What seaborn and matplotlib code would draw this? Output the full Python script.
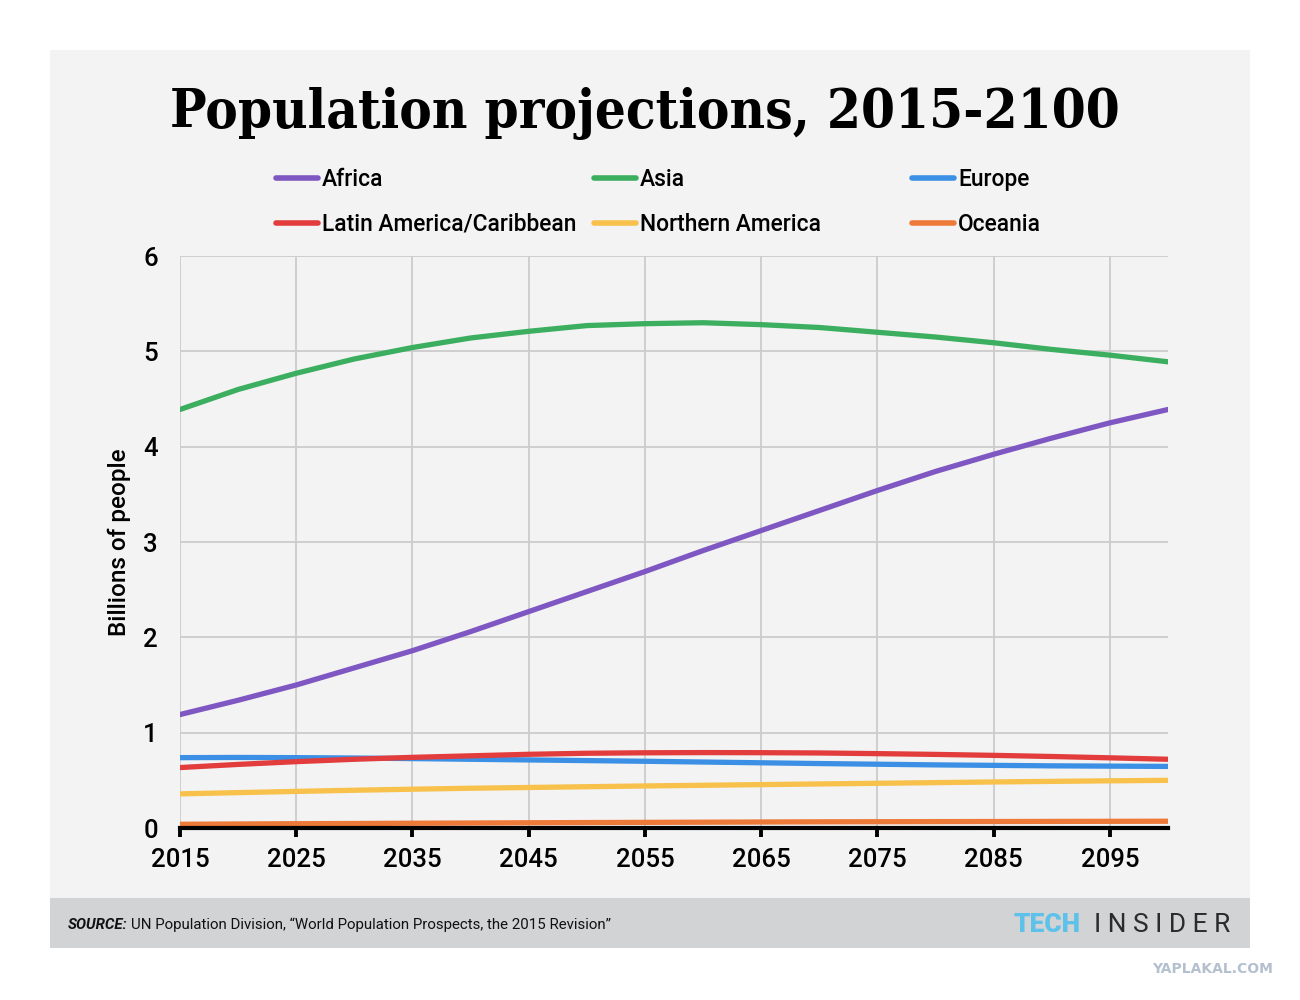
import pandas as pd
import matplotlib
matplotlib.use("Agg")
import matplotlib.pyplot as plt
import seaborn as sns
from matplotlib.patches import Rectangle
from matplotlib.lines import Line2D

# UN medium variant, billions, every 5 years
years = list(range(2015, 2101, 5))
africa = [1.19, 1.34, 1.50, 1.68, 1.86, 2.06, 2.27, 2.48, 2.69, 2.91, 3.12, 3.33, 3.54, 3.74, 3.92, 4.09, 4.25, 4.39]
asia = [4.39, 4.60, 4.77, 4.92, 5.04, 5.14, 5.21, 5.27, 5.29, 5.30, 5.28, 5.25, 5.20, 5.15, 5.09, 5.02, 4.96, 4.89]
europe = [0.738, 0.740, 0.738, 0.734, 0.728, 0.721, 0.714, 0.707, 0.700, 0.692, 0.684, 0.676, 0.669, 0.662, 0.657, 0.652, 0.649, 0.646]
latam = [0.634, 0.667, 0.696, 0.721, 0.741, 0.757, 0.773, 0.784, 0.789, 0.791, 0.790, 0.787, 0.780, 0.772, 0.762, 0.750, 0.736, 0.721]
n_america = [0.358, 0.371, 0.384, 0.396, 0.407, 0.417, 0.425, 0.433, 0.441, 0.448, 0.455, 0.462, 0.469, 0.476, 0.483, 0.489, 0.495, 0.500]
oceania = [0.039, 0.042, 0.045, 0.047, 0.050, 0.052, 0.055, 0.057, 0.059, 0.061, 0.063, 0.065, 0.066, 0.067, 0.068, 0.069, 0.070, 0.071]

regions = ["Africa", "Asia", "Europe", "Latin America/Caribbean", "Northern America", "Oceania"]
colors = ["#7e57c2", "#3cae5f", "#3b8fe4", "#e23c3c", "#f7c14b", "#ee7a3a"]
xticks = list(range(2015, 2100, 10))
yticks = [0, 1, 2, 3, 4, 5, 6]

df = pd.DataFrame({"year": years, "Africa": africa, "Asia": asia, "Europe": europe,
                   "Latin America/Caribbean": latam, "Northern America": n_america,
                   "Oceania": oceania})
df = df.melt(id_vars="year", var_name="region", value_name="pop")

sns.set_theme(style="whitegrid")
plt.rcParams["font.family"] = ["Roboto", "DejaVu Sans"]

W, H = 1300, 1000
fig = plt.figure(figsize=(13, 10), dpi=100)
fig.patch.set_facecolor("white")

# background panel + footer bar
fig.patches.append(Rectangle((50 / W, 1 - 898 / H), 1200 / W, 848 / H, transform=fig.transFigure,
                             facecolor="#f3f3f3", edgecolor="none", zorder=-5))
fig.patches.append(Rectangle((50 / W, 1 - 948 / H), 1200 / W, 50 / H, transform=fig.transFigure,
                             facecolor="#d1d3d4", edgecolor="none", zorder=-5))

ax = fig.add_axes([180 / W, 1 - 828 / H, 988 / W, 572 / H])
ax.set_facecolor("#f3f3f3")

pal = dict(zip(regions, colors))
sns.lineplot(data=df, x="year", y="pop", hue="region", palette=pal, linewidth=3.8,
             ax=ax, legend=False)

ax.set_xlim(2015, 2100)
ax.set_ylim(0, 6)
ax.set_xticks(xticks)
ax.set_yticks(yticks)
# vertical grid drawn separately so the x axis (ticks) can sit above the lines
ax.xaxis.grid(False)
ax.yaxis.grid(True, color="#cccccc", linewidth=1.3)
for xt in xticks:
    ax.axvline(xt, color="#cccccc", linewidth=1.3, zorder=0.6)
for s in ["top", "right", "left"]:
    ax.spines[s].set_visible(False)
ax.spines["bottom"].set_color("black")
ax.spines["bottom"].set_linewidth(3)
ax.spines["bottom"].set_zorder(5)
ax.xaxis.set_zorder(6)
ax.tick_params(axis="x", which="major", direction="out", length=6.5, width=2.8,
               color="black", pad=8, labelsize=18.5, bottom=True, top=False)
ax.tick_params(axis="y", length=0, pad=16, labelsize=18.5)
for lab in ax.get_xticklabels() + ax.get_yticklabels():
    lab.set_fontweight("medium")
    lab.set_color("black")
ax.set_xlabel("")
ax.set_ylabel("Billions of people", fontsize=17.5, fontweight="medium", color="black", labelpad=9)

# legend: three columns of two
cols = [(276, ["Africa", "Latin America/Caribbean"]),
        (594, ["Asia", "Northern America"]),
        (912, ["Europe", "Oceania"])]
for xpix, names in cols:
    handles = [Line2D([0], [0], color=pal[n], lw=4, solid_capstyle="round") for n in names]
    leg = fig.legend(handles, names, loc="upper left", bbox_to_anchor=(xpix / W, 1 - 168 / H),
                     frameon=False, handlelength=1.85, handletextpad=0.18, labelspacing=0.95,
                     borderpad=0, borderaxespad=0, prop={"size": 16.4, "weight": "medium"})
    for t in leg.get_texts():
        t.set_color("black")

fig.text(645 / W, 1 - 113 / H, "Population projections, 2015-2100", ha="center", va="center",
         fontsize=39.2, fontweight="bold", family="DejaVu Serif", fontstretch="condensed",
         color="black")

# footer
src1 = fig.text(68 / W, 1 - 925 / H, "SOURCE:", ha="left", va="center", fontsize=10.8,
                fontweight="bold", style="italic", color="#111111")
r = fig.canvas.get_renderer()
bb = src1.get_window_extent(renderer=r)
fig.text((bb.x1 + 3) / W, 1 - 925 / H,
         "UN Population Division, \u201cWorld Population Prospects, the 2015 Revision\u201d",
         ha="left", va="center", fontsize=10.8, color="#111111")

fig.text(1230 / W, 1 - 925 / H, "I N S I D E R", ha="right", va="center", fontsize=19,
         color="#2b2b2b")
fig.text(1081 / W, 1 - 925 / H, "TECH", ha="right", va="center", fontsize=19,
         fontweight="black", color="#5ec1ea")

fig.text(1273 / W, 1 - 969 / H, "YAPLAKAL.COM", ha="right", va="center", fontsize=10,
         fontweight="bold", color="#b4c0cf", family="DejaVu Sans")

fig.savefig("out.png", dpi=100, facecolor="white")
